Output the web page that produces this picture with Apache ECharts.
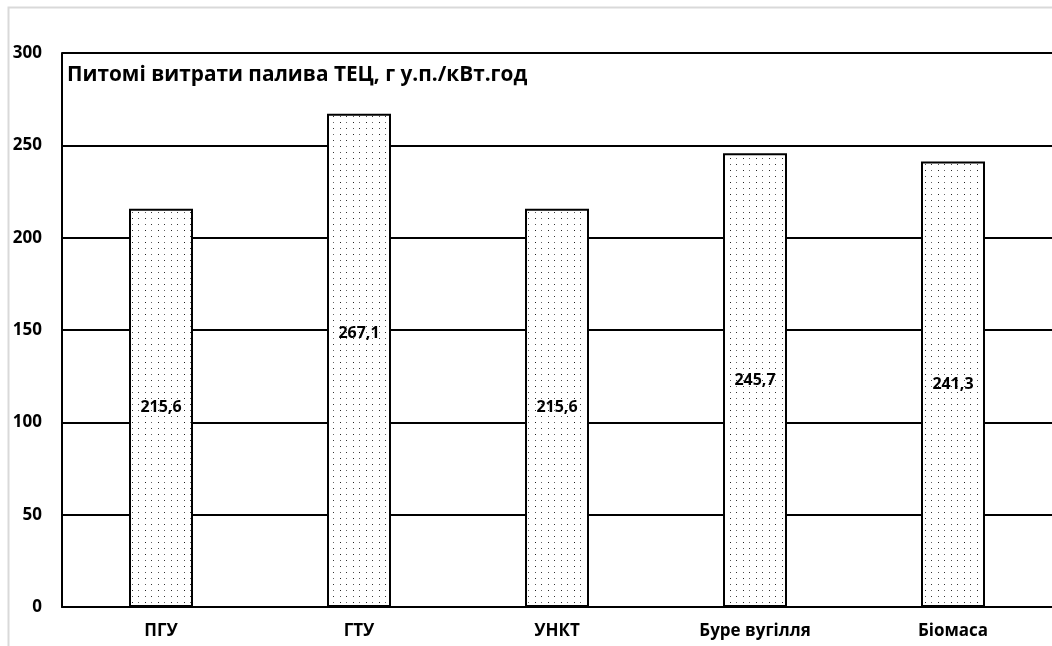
<!DOCTYPE html>
<html><head><meta charset="utf-8">
<script src="https://cdn.jsdelivr.net/npm/echarts@6/dist/echarts.min.js"></script>
<style>html,body{margin:0;padding:0;background:#fff}#c{width:1052px;height:646px}</style>
</head><body><div id="c"></div>
<script>
const categories = ['ПГУ', 'ГТУ', 'УНКТ', 'Буре вугілля', 'Біомаса'];
const values = [215.6, 267.1, 215.6, 245.7, 241.3];
const labelText = ['215,6', '267,1', '215,6', '245,7', '241,3'];
const titleText = 'Питомі витрати палива ТЕЦ, г у.п./кВт.год';

const FONT = '"Open Sans", "DejaVu Sans", sans-serif';

// dotted pattern
const pc = document.createElement('canvas');
pc.width = 13; pc.height = 12;
const pctx = pc.getContext('2d');
pctx.fillStyle = '#fff'; pctx.fillRect(0,0,13,12);
pctx.fillStyle = '#222'; pctx.fillRect(2,2,1,1);
pctx.fillStyle = '#666'; pctx.fillRect(8,2,1,1);
pctx.fillStyle = '#555'; pctx.fillRect(2,8,1,1);
pctx.fillStyle = '#333'; pctx.fillRect(8,8,1,1);

const chart = echarts.init(document.getElementById('c'), null, {renderer: 'canvas'});
chart.setOption({
  animation: false,
  backgroundColor: '#fff',
  title: {
    text: titleText, left: 67, top: 65, padding: 0,
    textStyle: {fontFamily: FONT, fontWeight: 'bold', fontSize: 20.8, color: '#000'}
  },
  graphic: [{
    type: 'rect', silent: true, z: -1,
    shape: {x: 8.5, y: 7.5, width: 1200, height: 800},
    style: {fill: null, stroke: '#d9d9d9', lineWidth: 2}
  }],
  grid: {left: 62, top: 53, width: 995, height: 554, containLabel: false},
  xAxis: {
    type: 'category', data: categories,
    axisLine: {lineStyle: {color: '#000', width: 2}},
    axisTick: {show: false},
    axisLabel: {color: '#000', fontFamily: FONT, fontWeight: 'bold', fontSize: 17, margin: 16}
  },
  yAxis: {
    type: 'value', min: 0, max: 300, interval: 50,
    axisLine: {show: true, lineStyle: {color: '#000', width: 2}},
    axisTick: {show: false},
    splitLine: {lineStyle: {color: '#000', width: 2}},
    axisLabel: {color: '#000', fontFamily: FONT, fontWeight: 'bold', fontSize: 17, margin: 20}
  },
  series: [{
    type: 'bar',
    data: values.map((v, i) => ({
      value: v,
      label: i === 1 ? {offset: [0, -27]} : {}
    })),
    barWidth: 64,
    itemStyle: {color: {image: pc, repetition: 'repeat'}, borderColor: '#000', borderWidth: 2},
    label: {
      show: true, position: 'inside',
      formatter: p => labelText[p.dataIndex],
      color: '#000', fontFamily: FONT, fontWeight: 'bold', fontSize: 16
    }
  }]
});
</script></body></html>
